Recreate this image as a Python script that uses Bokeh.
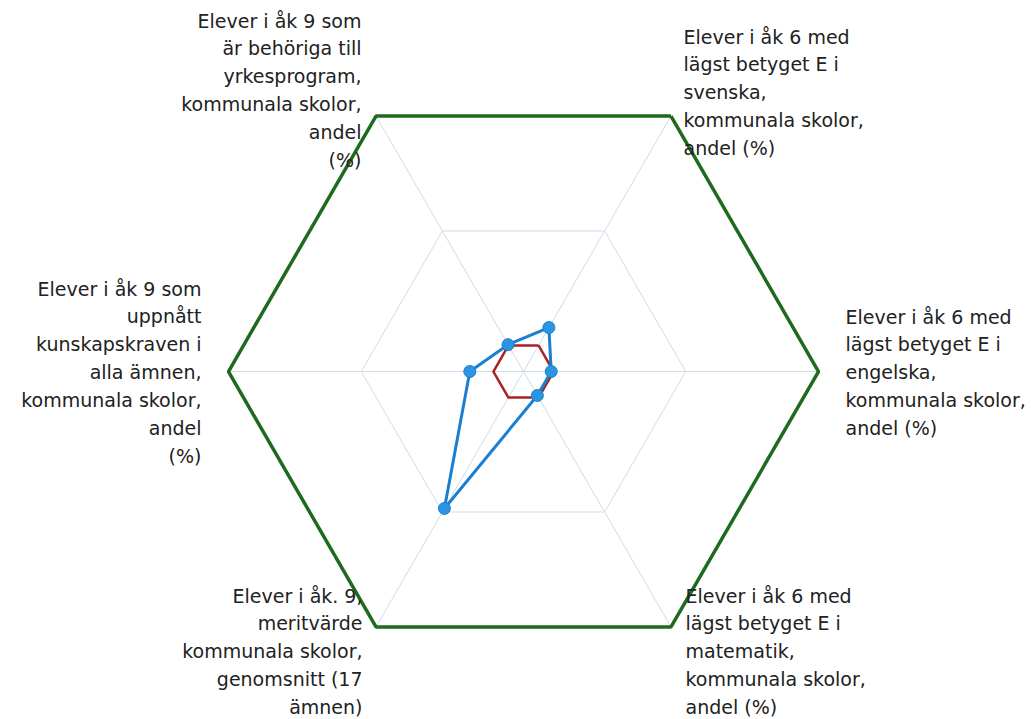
import math
from bokeh.plotting import figure
from bokeh.core.properties import value
from bokeh.embed import file_html
from bokeh.resources import INLINE

# ---- data ----
categories = [
    "Elever i åk 6 med\nlägst betyget E i\nsvenska,\nkommunala skolor,\nandel (%)",
    "Elever i åk 6 med\nlägst betyget E i\nengelska,\nkommunala skolor,\nandel (%)",
    "Elever i åk 6 med\nlägst betyget E i\nmatematik,\nkommunala skolor,\nandel (%)",
    "Elever i åk. 9,\nmeritvärde\nkommunala skolor,\ngenomsnitt (17\nämnen)",
    "Elever i åk 9 som\nuppnått\nkunskapskraven i\nalla ämnen,\nkommunala skolor,\nandel\n(%)",
    "Elever i åk 9 som\när behöriga till\nyrkesprogram,\nkommunala skolor,\nandel\n(%)",
]
angles_deg = [60, 0, -60, -120, 180, 120]
series_blue = [17.2, 9.4, 9.4, 53.6, 18.2, 10.5]
series_red = [10.2, 10.2, 10.2, 10.2, 10.2, 10.2]
series_green = [100, 100, 100, 100, 100, 100]
grid_levels = [55, 100]

R = 295.0  # px radius for value 100


def polar(vals):
    xs, ys = [], []
    for v, a in zip(vals, angles_deg):
        r = v / 100.0 * R
        xs.append(r * math.cos(math.radians(a)))
        ys.append(r * math.sin(math.radians(a)))
    return xs, ys


W, H = 1031, 719
p = figure(width=W, height=H, x_range=(-523, 508), y_range=(-348, 371),
           output_backend="svg", toolbar_location=None,
           min_border=0, outline_line_color=None)
p.axis.visible = False
p.grid.visible = False
p.background_fill_color = "white"

# grid rings
for g in grid_levels[:-1]:
    gx, gy = polar([g] * 6)
    p.line(gx + gx[:1], gy + gy[:1], line_color="#d0dbe6", line_width=1)
# spokes
ox, oy = polar(series_green)
for x1, y1 in zip(ox, oy):
    p.line([0, x1], [0, y1], line_color="#d0dbe6", line_width=1)

# green series
p.line(ox + ox[:1], oy + oy[:1], line_color="#1e6b1e", line_width=3.5)

# red series
rx, ry = polar(series_red)
p.line(rx + rx[:1], ry + ry[:1], line_color="#a8231f", line_width=2.5)

# blue series
bx, by = polar(series_blue)
p.line(bx + bx[:1], by + by[:1], line_color="#1a7fd0", line_width=3)
p.scatter(bx, by, size=12, fill_color="#2a95e0", line_color="#1a7fd0", line_width=1)

# labels
label_pos = [
    (160, 346, "left"),
    (322, 66, "left"),
    (162, -213, "left"),
    (-161, -213, "right"),
    (-322, 94, "right"),
    (-162, 362, "right"),
]
for (lx, ly, al), txt in zip(label_pos, categories):
    p.text(x=[lx], y=[ly], text=[txt], text_align=al, text_baseline="top",
           text_font=value("DejaVu Sans"), text_font_size="19px",
           text_color="#222222", text_line_height=1.27)

open("out.html", "w").write(file_html(p, INLINE))
